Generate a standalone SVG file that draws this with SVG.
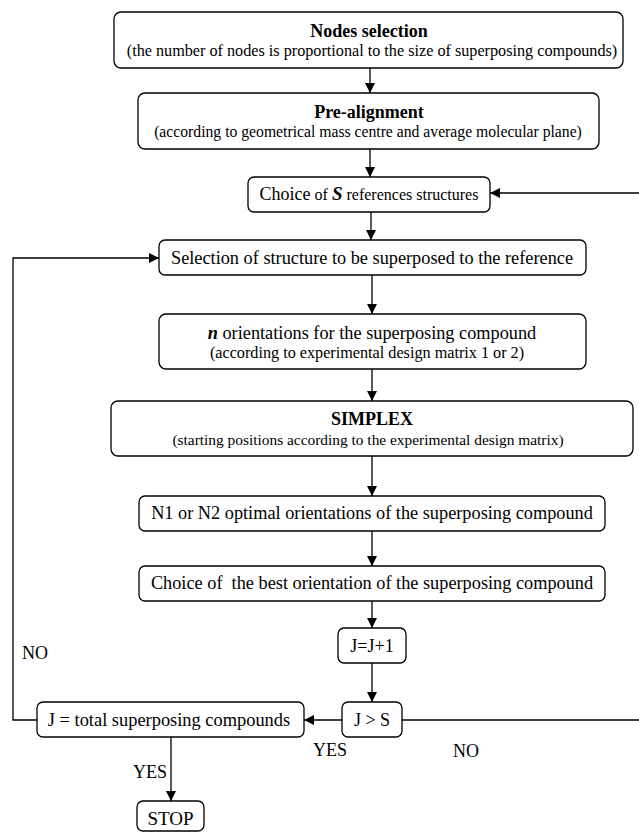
<svg xmlns="http://www.w3.org/2000/svg" width="639" height="833" viewBox="0 0 639 833" font-family="'Liberation Serif', 'Times New Roman', serif">
<style>
.box{fill:#fff;stroke:#000;stroke-width:1.3}
text{font-family:'Liberation Serif','Times New Roman',serif;fill:#000}
.t{text-anchor:middle}
.b{font-weight:bold}
.c{fill:none;stroke:#000;stroke-width:1.3}
</style>
<defs>
<marker id="ah" viewBox="0 0 10 10" refX="10" refY="5" markerWidth="10" markerHeight="10" markerUnits="userSpaceOnUse" orient="auto">
<path d="M0,0 L10,5 L0,10 Z" fill="#000"/>
</marker>
</defs>
<rect width="639" height="833" fill="#fff"/>
<g id="connectors">
<path class="c" d="M370,68 V93" marker-end="url(#ah)"/>
<path class="c" d="M370,149 V177" marker-end="url(#ah)"/>
<path class="c" d="M371,212 V240" marker-end="url(#ah)"/>
<path class="c" d="M372,275 V314" marker-end="url(#ah)"/>
<path class="c" d="M372,369 V401" marker-end="url(#ah)"/>
<path class="c" d="M372,456 V496" marker-end="url(#ah)"/>
<path class="c" d="M372,531 V566" marker-end="url(#ah)"/>
<path class="c" d="M372,601 V628" marker-end="url(#ah)"/>
<path class="c" d="M372,663 V702" marker-end="url(#ah)"/>
<path class="c" d="M342,720 H304" marker-end="url(#ah)"/>
<path class="c" d="M402,720 H641 V193 H490" marker-end="url(#ah)"/>
<path class="c" d="M37,720 H13 V258 H159" marker-end="url(#ah)"/>
<path class="c" d="M171,737 V801" marker-end="url(#ah)"/>
</g>
<g id="n1"><rect class="box" x="114" y="12" width="509" height="56" rx="7"/>
<text class="t b" x="369" y="37" font-size="18">Nodes selection</text>
<text class="t" x="372" y="56" font-size="16.2">(the number of nodes is proportional to the size of superposing compounds)</text></g>
<g id="n2"><rect class="box" x="138" y="93" width="461" height="56" rx="7"/>
<text class="t b" x="369" y="118" font-size="18">Pre-alignment</text>
<text class="t" x="368" y="137" font-size="15.7">(according to geometrical mass centre and average molecular plane)</text></g>
<g id="n3"><rect class="box" x="248" y="177" width="242" height="35" rx="6"/>
<text class="t" x="369" y="200" font-size="16"><tspan font-size="18">Choice</tspan> of <tspan font-weight="bold" font-style="italic" font-size="19">S</tspan> references structures</text></g>
<g id="n4"><rect class="box" x="159" y="240" width="427" height="35" rx="6"/>
<text class="t" x="372" y="264" font-size="18.3">Selection of structure to be superposed to the reference</text></g>
<g id="n5"><rect class="box" x="159" y="314" width="427" height="55" rx="7"/>
<text class="t" x="372" y="339" font-size="18.3"><tspan font-weight="bold" font-style="italic">n</tspan> orientations for the superposing compound</text>
<text class="t" x="367" y="358" font-size="16.2">(according to experimental design matrix 1 or 2)</text></g>
<g id="n6"><rect class="box" x="111" y="401" width="522" height="55" rx="7"/>
<text class="t b" x="372" y="425" font-size="18">SIMPLEX</text>
<text class="t" x="368" y="445" font-size="15.4">(starting positions according to the experimental design matrix)</text></g>
<g id="n7"><rect class="box" x="139" y="496" width="466" height="35" rx="6"/>
<text class="t" x="372" y="519" font-size="18.3">N1 or N2 optimal orientations of the superposing compound</text></g>
<g id="n8"><rect class="box" x="139" y="566" width="466" height="35" rx="6"/>
<text class="t" x="372" y="589" font-size="18.3" xml:space="preserve">Choice of  the best orientation of the superposing compound</text></g>
<g id="n9"><rect class="box" x="338" y="628" width="68" height="35" rx="6"/>
<text class="t" x="372" y="652" font-size="18">J=J+1</text></g>
<g id="n10"><rect class="box" x="342" y="702" width="60" height="35" rx="6"/>
<text class="t" x="372" y="726" font-size="18">J &gt; S</text></g>
<g id="n11"><rect class="box" x="37" y="702" width="267" height="35" rx="6"/>
<text class="t" x="169" y="726" font-size="18.4">J = total superposing compounds</text></g>
<g id="n12"><rect class="box" x="137" y="801" width="67" height="30" rx="6"/>
<text class="t" x="170.5" y="825" font-size="19">STOP</text></g>
<g id="labels">
<text x="22" y="659" font-size="18">NO</text>
<text x="313" y="756" font-size="18">YES</text>
<text x="453" y="757" font-size="18">NO</text>
<text x="133" y="778" font-size="18">YES</text>
</g>
</svg>
